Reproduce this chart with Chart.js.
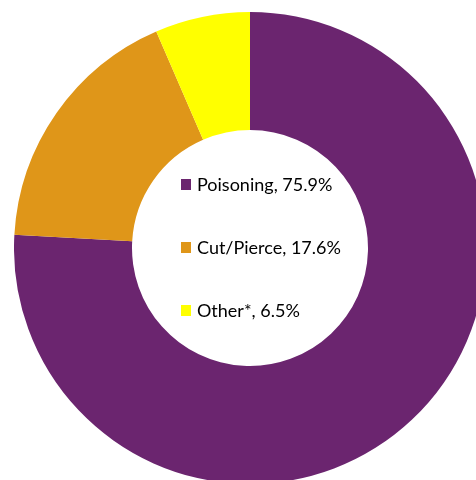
<!DOCTYPE html>
<html><head><meta charset="utf-8">
<script src="https://cdn.jsdelivr.net/npm/chart.js@4"></script>
<style>
html,body{margin:0;padding:0;width:476px;height:480px;overflow:hidden;background:#fff;}
#wrap{position:absolute;left:14px;top:12px;width:472px;height:472px;}
</style></head>
<body>
<div id="wrap"><canvas id="c" width="472" height="472"></canvas></div>
<script>
const categories = ["Poisoning", "Cut/Pierce", "Other*"];
const percentValues = [75.9, 17.6, 6.5];
const sliceColors = ["#6B256F", "#DF9619", "#FFFF00"];

const centerLegend = {
  id: 'centerLegend',
  afterDraw(chart) {
    const ctx = chart.ctx;
    const meta = chart.getDatasetMeta(0);
    const cx = meta.data[0].x, cy = meta.data[0].y;
    ctx.save();
    ctx.font = '18px Lato';
    ctx.textBaseline = 'alphabetic';
    const baseOffsets = [-57, 6, 69];
    categories.forEach((cat, i) => {
      const by = cy + baseOffsets[i];
      ctx.fillStyle = sliceColors[i];
      ctx.fillRect(cx - 69, by - 12, 10, 11);
      ctx.fillStyle = '#000';
      ctx.fillText(cat + ', ' + percentValues[i].toFixed(1) + '%', cx - 53, by);
    });
    ctx.restore();
  }
};

new Chart(document.getElementById('c'), {
  type: 'doughnut',
  data: {
    labels: categories,
    datasets: [{
      data: percentValues,
      backgroundColor: sliceColors,
      borderWidth: 0
    }]
  },
  options: {
    responsive: false,
    animation: false,
    cutout: '50%',
    layout: { padding: 0 },
    plugins: { legend: { display: false }, tooltip: { enabled: false }, title: { display: false } }
  },
  plugins: [centerLegend]
});
</script>
</body></html>
